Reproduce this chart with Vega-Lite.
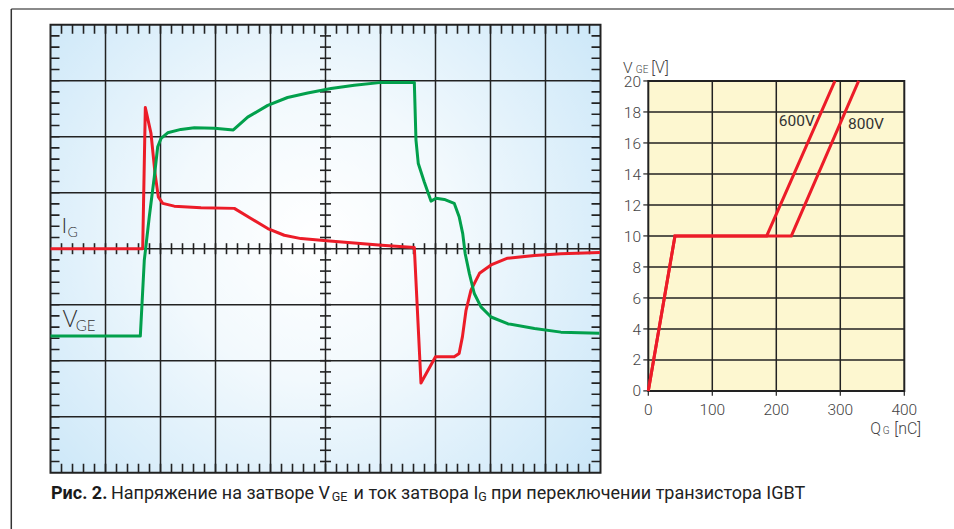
{
  "$schema": "https://vega.github.io/schema/vega-lite/v6.json",
  "background": "white",
  "padding": {"left": 9.5, "top": 7.7, "right": 0, "bottom": 0},
  "bounds": "flush",
  "spacing": 47.8,
  "config": {"view": {"stroke": null}, "font": "Roboto"},
  "datasets": {
    "xt": [{"t":0.2},{"t":0.4},{"t":0.6},{"t":0.8},{"t":1},{"t":1.2},{"t":1.4},{"t":1.6},{"t":1.8},{"t":2},{"t":2.2},{"t":2.4},{"t":2.6},{"t":2.8},{"t":3},{"t":3.2},{"t":3.4},{"t":3.6},{"t":3.8},{"t":4},{"t":4.2},{"t":4.4},{"t":4.6},{"t":4.8},{"t":5},{"t":5.2},{"t":5.4},{"t":5.6},{"t":5.8},{"t":6},{"t":6.2},{"t":6.4},{"t":6.6},{"t":6.8},{"t":7},{"t":7.2},{"t":7.4},{"t":7.6},{"t":7.8},{"t":8},{"t":8.2},{"t":8.4},{"t":8.6},{"t":8.8},{"t":9},{"t":9.2},{"t":9.4},{"t":9.6},{"t":9.8}],
    "yt": [{"t":0.2},{"t":0.4},{"t":0.6},{"t":0.8},{"t":1},{"t":1.2},{"t":1.4},{"t":1.6},{"t":1.8},{"t":2},{"t":2.2},{"t":2.4},{"t":2.6},{"t":2.8},{"t":3},{"t":3.2},{"t":3.4},{"t":3.6},{"t":3.8},{"t":4},{"t":4.2},{"t":4.4},{"t":4.6},{"t":4.8},{"t":5},{"t":5.2},{"t":5.4},{"t":5.6},{"t":5.8},{"t":6},{"t":6.2},{"t":6.4},{"t":6.6},{"t":6.8},{"t":7},{"t":7.2},{"t":7.4},{"t":7.6},{"t":7.8}],
    "gx": [{"g":1},{"g":2},{"g":3},{"g":4},{"g":5},{"g":6},{"g":7},{"g":8},{"g":9}],
    "gy": [{"g":1},{"g":2},{"g":3},{"g":4},{"g":5},{"g":6},{"g":7}],
    "scope": [
      {"s":"IG","t":0,"v":4.0},{"s":"IG","t":1.676,"v":4.0},{"s":"IG","t":1.724,"v":6.52},{"s":"IG","t":1.827,"v":6.06},{"s":"IG","t":1.9,"v":5.35},{"s":"IG","t":1.96,"v":4.925},{"s":"IG","t":2.04,"v":4.81},{"s":"IG","t":2.25,"v":4.76},{"s":"IG","t":2.736,"v":4.73},{"s":"IG","t":3.342,"v":4.72},{"s":"IG","t":3.645,"v":4.54},{"s":"IG","t":3.95,"v":4.36},{"s":"IG","t":4.25,"v":4.24},{"s":"IG","t":4.555,"v":4.18},{"s":"IG","t":5.02,"v":4.14},{"s":"IG","t":6.02,"v":4.06},{"s":"IG","t":6.615,"v":4.02},{"s":"IG","t":6.736,"v":1.6},{"s":"IG","t":7.0,"v":2.07},{"s":"IG","t":7.34,"v":2.07},{"s":"IG","t":7.43,"v":2.13},{"s":"IG","t":7.49,"v":2.43},{"s":"IG","t":7.555,"v":2.9},{"s":"IG","t":7.645,"v":3.26},{"s":"IG","t":7.8,"v":3.56},{"s":"IG","t":8.01,"v":3.71},{"s":"IG","t":8.31,"v":3.83},{"s":"IG","t":8.8,"v":3.88},{"s":"IG","t":9.28,"v":3.91},{"s":"IG","t":9.99,"v":3.93},
      {"s":"VGE","t":0,"v":2.44},{"s":"VGE","t":1.633,"v":2.44},{"s":"VGE","t":1.705,"v":3.79},{"s":"VGE","t":1.796,"v":4.57},{"s":"VGE","t":1.887,"v":5.28},{"s":"VGE","t":1.949,"v":5.82},{"s":"VGE","t":2.01,"v":5.97},{"s":"VGE","t":2.13,"v":6.07},{"s":"VGE","t":2.37,"v":6.13},{"s":"VGE","t":2.615,"v":6.16},{"s":"VGE","t":2.98,"v":6.15},{"s":"VGE","t":3.324,"v":6.12},{"s":"VGE","t":3.585,"v":6.35},{"s":"VGE","t":3.95,"v":6.56},{"s":"VGE","t":4.31,"v":6.7},{"s":"VGE","t":4.676,"v":6.78},{"s":"VGE","t":5.1,"v":6.86},{"s":"VGE","t":5.524,"v":6.92},{"s":"VGE","t":6.02,"v":6.97},{"s":"VGE","t":6.615,"v":6.97},{"s":"VGE","t":6.645,"v":5.94},{"s":"VGE","t":6.687,"v":5.52},{"s":"VGE","t":6.796,"v":5.19},{"s":"VGE","t":6.918,"v":4.85},{"s":"VGE","t":7.01,"v":4.9},{"s":"VGE","t":7.16,"v":4.88},{"s":"VGE","t":7.34,"v":4.81},{"s":"VGE","t":7.43,"v":4.57},{"s":"VGE","t":7.495,"v":4.27},{"s":"VGE","t":7.54,"v":3.91},{"s":"VGE","t":7.615,"v":3.56},{"s":"VGE","t":7.705,"v":3.2},{"s":"VGE","t":7.827,"v":2.96},{"s":"VGE","t":8.01,"v":2.78},{"s":"VGE","t":8.31,"v":2.66},{"s":"VGE","t":8.8,"v":2.575},{"s":"VGE","t":9.28,"v":2.51},{"s":"VGE","t":9.98,"v":2.49}
    ],
    "gq": [{"g":100},{"g":200},{"g":300}],
    "gv": [{"g":2},{"g":4},{"g":6},{"g":8},{"g":10},{"g":12},{"g":14},{"g":16},{"g":18}],
    "qticks": [{"q":0},{"q":100},{"q":200},{"q":300},{"q":400}],
    "vticks": [{"v":0},{"v":2},{"v":4},{"v":6},{"v":8},{"v":10},{"v":12},{"v":14},{"v":16},{"v":18},{"v":20}],
    "qg": [
      {"s":"600V","q":0,"v":0},{"s":"600V","q":41.7,"v":10},{"s":"600V","q":185,"v":10},{"s":"600V","q":291.7,"v":20},
      {"s":"800V","q":0,"v":0},{"s":"800V","q":41.7,"v":10},{"s":"800V","q":223.5,"v":10},{"s":"800V","q":328.7,"v":20}
    ]
  },
  "hconcat": [
    {
      "width": 550,
      "height": 448,
      "layer": [
        {
          "data": {"values": [{}]},
          "mark": {"type": "rect", "stroke": "#222", "strokeWidth": 2, "fill": {"gradient": "radial", "x1": 0.48, "y1": 0.48, "r1": 0, "x2": 0.48, "y2": 0.48, "r2": 0.74, "stops": [{"offset": 0, "color": "#ffffff"}, {"offset": 0.35, "color": "#f2f9fd"}, {"offset": 1, "color": "#c3e3f7"}]}},
          "encoding": {
            "x": {"datum": 0, "type": "quantitative", "scale": {"domain": [0, 10], "nice": false, "zero": false}, "axis": null},
            "x2": {"datum": 10},
            "y": {"datum": 0, "type": "quantitative", "scale": {"domain": [0, 8], "nice": false, "zero": false}, "axis": null},
            "y2": {"datum": 8}
          }
        },
        {"data": {"name": "gx"}, "mark": {"type": "rule", "color": "#222", "strokeWidth": 1.5}, "encoding": {"x": {"field": "g", "type": "quantitative", "axis": null}}},
        {"data": {"name": "gy"}, "mark": {"type": "rule", "color": "#222", "strokeWidth": 1.5}, "encoding": {"y": {"field": "g", "type": "quantitative", "axis": null}}},
        {"data": {"name": "xt"}, "mark": {"type": "tick", "orient": "vertical", "size": 18, "thickness": 1.6, "color": "#222", "opacity": 1, "clip": true}, "encoding": {"x": {"field": "t", "type": "quantitative"}, "y": {"datum": 8}}},
        {"data": {"name": "xt"}, "mark": {"type": "tick", "orient": "vertical", "size": 18, "thickness": 1.6, "color": "#222", "opacity": 1, "clip": true}, "encoding": {"x": {"field": "t", "type": "quantitative"}, "y": {"datum": 0}}},
        {"data": {"name": "xt"}, "mark": {"type": "tick", "orient": "vertical", "size": 11, "thickness": 1.6, "color": "#222", "opacity": 1}, "encoding": {"x": {"field": "t", "type": "quantitative"}, "y": {"datum": 4}}},
        {"data": {"name": "yt"}, "mark": {"type": "tick", "orient": "horizontal", "size": 18, "thickness": 1.6, "color": "#222", "opacity": 1, "clip": true}, "encoding": {"y": {"field": "t", "type": "quantitative"}, "x": {"datum": 0}}},
        {"data": {"name": "yt"}, "mark": {"type": "tick", "orient": "horizontal", "size": 18, "thickness": 1.6, "color": "#222", "opacity": 1, "clip": true}, "encoding": {"y": {"field": "t", "type": "quantitative"}, "x": {"datum": 10}}},
        {"data": {"name": "yt"}, "mark": {"type": "tick", "orient": "horizontal", "size": 11, "thickness": 1.6, "color": "#222", "opacity": 1}, "encoding": {"y": {"field": "t", "type": "quantitative"}, "x": {"datum": 5}}},
        {
          "data": {"name": "scope"},
          "mark": {"type": "line", "strokeWidth": 3, "strokeJoin": "round"},
          "encoding": {
            "x": {"field": "t", "type": "quantitative"},
            "y": {"field": "v", "type": "quantitative"},
            "color": {"field": "s", "type": "nominal", "scale": {"domain": ["IG", "VGE"], "range": ["#ec1c28", "#02a04c"]}, "legend": null}
          }
        },
        {"data": {"values": [{}]}, "mark": {"type": "text", "text": "I", "font": "Lato", "fontWeight": 300, "fontSize": 22, "align": "left", "baseline": "alphabetic", "color": "#333"}, "encoding": {"x": {"datum": 0.2}, "y": {"datum": 4.28}}},
        {"data": {"values": [{}]}, "mark": {"type": "text", "text": "G", "font": "Lato", "fontWeight": 300, "fontSize": 14, "align": "left", "baseline": "alphabetic", "color": "#333"}, "encoding": {"x": {"datum": 0.31}, "y": {"datum": 4.2}}},
        {"data": {"values": [{}]}, "mark": {"type": "text", "text": "V", "font": "Lato", "fontWeight": 300, "fontSize": 23, "align": "left", "baseline": "alphabetic", "color": "#333"}, "encoding": {"x": {"datum": 0.22}, "y": {"datum": 2.6}}},
        {"data": {"values": [{}]}, "mark": {"type": "text", "text": "GE", "font": "Lato", "fontWeight": 300, "fontSize": 15, "align": "left", "baseline": "alphabetic", "color": "#333"}, "encoding": {"x": {"datum": 0.46}, "y": {"datum": 2.53}}},
        {"data": {"values": [{}]}, "mark": {"type": "text", "text": "Рис. 2.", "font": "Roboto", "fontWeight": "bold", "fontSize": 18, "align": "left", "baseline": "alphabetic", "color": "#1a1a1a"}, "encoding": {"x": {"datum": 0.009}, "y": {"datum": -0.461}}},
        {"data": {"values": [{}]}, "mark": {"type": "text", "text": "Напряжение на затворе V", "font": "Roboto", "fontSize": 18, "align": "left", "baseline": "alphabetic", "color": "#222"}, "encoding": {"x": {"datum": 1.1}, "y": {"datum": -0.461}}},
        {"data": {"values": [{}]}, "mark": {"type": "text", "text": "GE", "font": "Roboto", "fontSize": 12.5, "align": "left", "baseline": "alphabetic", "color": "#222"}, "encoding": {"x": {"datum": 5.112}, "y": {"datum": -0.514}}},
        {"data": {"values": [{}]}, "mark": {"type": "text", "text": "и ток затвора I", "font": "Roboto", "fontSize": 18, "align": "left", "baseline": "alphabetic", "color": "#222"}, "encoding": {"x": {"datum": 5.51}, "y": {"datum": -0.461}}},
        {"data": {"values": [{}]}, "mark": {"type": "text", "text": "G", "font": "Roboto", "fontSize": 12.5, "align": "left", "baseline": "alphabetic", "color": "#222"}, "encoding": {"x": {"datum": 7.775}, "y": {"datum": -0.514}}},
        {"data": {"values": [{}]}, "mark": {"type": "text", "text": "при переключении транзистора IGBT", "font": "Roboto", "fontSize": 18, "align": "left", "baseline": "alphabetic", "color": "#222"}, "encoding": {"x": {"datum": 8.01}, "y": {"datum": -0.461}}},
        {"data": {"values": [{}]}, "mark": {"type": "rule", "color": "#8a8a8a", "strokeWidth": 2}, "encoding": {"x": {"datum": -0.713}, "x2": {"datum": 17}, "y": {"datum": 8.282}}},
        {"data": {"values": [{}]}, "mark": {"type": "rule", "color": "#333", "strokeWidth": 1.5}, "encoding": {"x": {"datum": -0.713}, "y": {"datum": 8.282}, "y2": {"datum": -1.2}}}
      ]
    },
    {
      "width": 256,
      "height": 366.2,
      "layer": [
        {
          "data": {"values": [{}]},
          "mark": {"type": "rect", "fill": "#fdf7d0", "stroke": "#222", "strokeWidth": 2},
          "encoding": {
            "x": {"datum": 0, "type": "quantitative", "scale": {"domain": [0, 400], "nice": false, "zero": false}, "axis": null},
            "x2": {"datum": 400},
            "y": {"datum": 0, "type": "quantitative", "scale": {"domain": [0, 23.63], "nice": false, "zero": false}, "axis": null},
            "y2": {"datum": 20}
          }
        },
        {"data": {"name": "gq"}, "mark": {"type": "rule", "color": "#222", "strokeWidth": 1.5}, "encoding": {"x": {"field": "g", "type": "quantitative", "axis": null}, "y": {"datum": 0, "axis": null}, "y2": {"datum": 20}}},
        {"data": {"name": "gv"}, "mark": {"type": "rule", "color": "#222", "strokeWidth": 1.5}, "encoding": {"y": {"field": "g", "type": "quantitative", "axis": null}, "x": {"datum": 0, "axis": null}, "x2": {"datum": 400}}},
        {"data": {"name": "qticks"}, "mark": {"type": "rule", "color": "#222", "strokeWidth": 1.2}, "encoding": {"x": {"field": "q", "type": "quantitative", "axis": null}, "y": {"datum": 0, "axis": null}, "y2": {"datum": -0.32}}},
        {"data": {"name": "vticks"}, "mark": {"type": "rule", "color": "#222", "strokeWidth": 1.2}, "encoding": {"y": {"field": "v", "type": "quantitative", "axis": null}, "x": {"datum": 0, "axis": null}, "x2": {"datum": -7.8}}},
        {"data": {"name": "qticks"}, "mark": {"type": "text", "font": "Roboto", "fontWeight": 300, "fontSize": 15.5, "align": "center", "baseline": "alphabetic", "dy": 24.5, "color": "#444"}, "encoding": {"x": {"field": "q", "type": "quantitative", "axis": null}, "y": {"datum": 0, "axis": null}, "text": {"field": "q", "type": "nominal"}}},
        {"data": {"name": "vticks"}, "mark": {"type": "text", "font": "Roboto", "fontWeight": 300, "fontSize": 15.5, "align": "right", "baseline": "alphabetic", "dx": -7.3, "dy": 5.6, "color": "#444"}, "encoding": {"y": {"field": "v", "type": "quantitative", "axis": null}, "x": {"datum": 0, "axis": null}, "text": {"field": "v", "type": "nominal"}}},
        {
          "data": {"name": "qg"},
          "mark": {"type": "line", "strokeWidth": 3, "color": "#ec1c28", "strokeJoin": "miter"},
          "encoding": {
            "x": {"field": "q", "type": "quantitative", "axis": null},
            "y": {"field": "v", "type": "quantitative", "axis": null},
            "detail": {"field": "s", "type": "nominal"}
          }
        },
        {"data": {"values": [{}]}, "mark": {"type": "text", "text": "600V", "font": "Roboto", "fontSize": 15.5, "align": "left", "baseline": "alphabetic", "color": "#333"}, "encoding": {"x": {"datum": 204, "axis": null}, "y": {"datum": 17.08, "axis": null}}},
        {"data": {"values": [{}]}, "mark": {"type": "text", "text": "800V", "font": "Roboto", "fontSize": 15.5, "align": "left", "baseline": "alphabetic", "color": "#333"}, "encoding": {"x": {"datum": 312, "axis": null}, "y": {"datum": 16.93, "axis": null}}},
        {"data": {"values": [{}]}, "mark": {"type": "text", "text": "V", "font": "Roboto", "fontWeight": 300, "fontSize": 15.5, "align": "left", "baseline": "alphabetic", "color": "#444"}, "encoding": {"x": {"datum": -39.5, "axis": null}, "y": {"datum": 20.54, "axis": null}}},
        {"data": {"values": [{}]}, "mark": {"type": "text", "text": "GE", "font": "Roboto", "fontWeight": 300, "fontSize": 10, "align": "left", "baseline": "alphabetic", "color": "#444"}, "encoding": {"x": {"datum": -19.5, "axis": null}, "y": {"datum": 20.54, "axis": null}}},
        {"data": {"values": [{}]}, "mark": {"type": "text", "text": "[V]", "font": "Roboto", "fontWeight": 300, "fontSize": 16, "align": "left", "baseline": "alphabetic", "color": "#444"}, "encoding": {"x": {"datum": 4.5, "axis": null}, "y": {"datum": 20.54, "axis": null}}},
        {"data": {"values": [{}]}, "mark": {"type": "text", "text": "Q", "font": "Roboto", "fontWeight": 300, "fontSize": 16, "align": "left", "baseline": "alphabetic", "color": "#444"}, "encoding": {"x": {"datum": 346.9, "axis": null}, "y": {"datum": -2.75, "axis": null}}},
        {"data": {"values": [{}]}, "mark": {"type": "text", "text": "G", "font": "Roboto", "fontWeight": 300, "fontSize": 10, "align": "left", "baseline": "alphabetic", "color": "#444"}, "encoding": {"x": {"datum": 366.3, "axis": null}, "y": {"datum": -2.78, "axis": null}}},
        {"data": {"values": [{}]}, "mark": {"type": "text", "text": "[nC]", "font": "Roboto", "fontWeight": 300, "fontSize": 16, "align": "left", "baseline": "alphabetic", "color": "#444"}, "encoding": {"x": {"datum": 384.4, "axis": null}, "y": {"datum": -2.75, "axis": null}}}
      ]
    }
  ]
}
